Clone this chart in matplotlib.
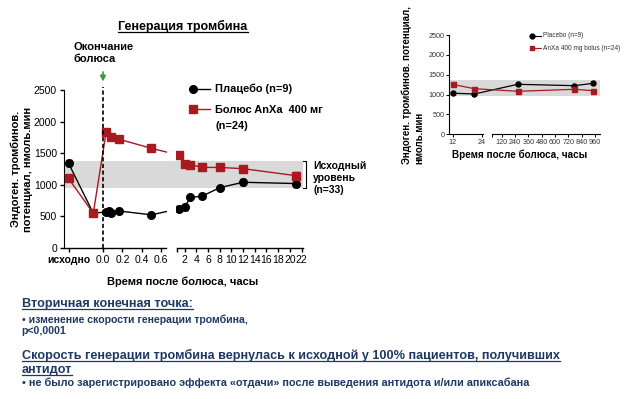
import matplotlib.pyplot as plt
import numpy as np
from matplotlib.lines import Line2D
from matplotlib.patches import Rectangle
from matplotlib.transforms import blended_transform_factory

plt.rcParams['font.family'] = ['Liberation Sans', 'DejaVu Sans']

# --- Hauptdiagramm: Thrombingenerierung (ETP) ---
pos_baseline = -0.355          # Position der Kategorie "исходно" auf der x-Achse
t_placebo = [pos_baseline, -0.1, 0.033, 0.067, 0.083, 0.167, 0.5, 1, 2, 3, 5, 8, 12, 21]
etp_placebo = [1340, 550, 570, 580, 560, 585, 525, 620, 650, 800, 820, 955, 1040, 1020]
err_placebo = [50, 0, 0, 0, 45, 0, 0, 40, 50, 0, 0, 0, 50, 50]

t_anxa = [pos_baseline, -0.1, 0.033, 0.083, 0.167, 0.5, 1, 2, 3, 5, 8, 12, 21]
etp_anxa = [1100, 550, 1840, 1750, 1720, 1577, 1470, 1325, 1320, 1275, 1275, 1255, 1145]
err_anxa = [0, 0, 0, 0, 0, 0, 0, 0, 0, 0, 0, 0, 50]

band = (955, 1370)             # Исходный уровень (n=33)

ticks_main = [pos_baseline, 0.0, 0.2, 0.4, 0.6, 0.7, 2, 4, 6, 8, 10, 12, 14, 16, 18, 20, 22]
ticklabels_main = ['исходно', '0.0', '0.2', '0.4', '0.6', '', '2', '4', '6', '8', '10', '12',
                   '14', '16', '18', '20', '22']

# --- kleines Diagramm rechts: Spätwerte ---
t_late = [12, 21, 264, 774, 945]
etp_late_placebo = [1035, 1015, 1259, 1224, 1284]
etp_late_anxa = [1258, 1148, 1083, 1133, 1098]
ticks_late = [12, 24, 30, 120, 240, 360, 480, 600, 720, 840, 960]
ticklabels_late = ['12', '24', '', '120', '240', '360', '480', '600', '720', '840', '960']

red = '#A51B1F'
navy = '#1F3864'
grey = '#D9D9D9'

W, H = 624, 399
def fx(px):
    return px / W
def fy(py):
    return 1 - py / H


def broken_scale(kx, kp):
    # stueckweise lineare Achse (Achsenbruch)
    fwd = lambda x: np.interp(x, kx, kp)
    inv = lambda p: np.interp(p, kp, kx)
    return fwd, inv


fig = plt.figure(figsize=(6.24, 3.99), dpi=100)

# ---------------- Hauptdiagramm ----------------
ax = fig.add_axes([fx(64), fy(248), fx(303 - 64), (248 - 90) / H])
kx = [-10, 0.65, 0.7, 1000]
kp = [103 - 970, 103 + 97 * 0.65, 177, 177 + 5.85 * 999.3]
ax.set_xscale('function', functions=broken_scale(kx, kp))
ax.set_xlim(-0.402, 22.24)
ax.set_ylim(0, 2500)

ax.axhspan(band[0], band[1], color=grey, zorder=0, lw=0)
ax.errorbar(t_placebo, etp_placebo, yerr=err_placebo, color='black', marker='o', ms=5.5,
            lw=1, elinewidth=1, capsize=2, zorder=3)
ax.errorbar(t_anxa, etp_anxa, yerr=err_anxa, color=red, marker='s', ms=6,
            lw=1, elinewidth=1, capsize=2, zorder=3)
# Luecke der Linien im Achsenbruch (ausserhalb des grauen Bandes)
for y0 in (400, 1400):
    ax.add_patch(Rectangle((0.655, y0), 0.04, 350, color='white', lw=0, zorder=3.5))
ax.axvline(0, ymin=0, ymax=1.02, color='black', ls=(0, (2.5, 1.5)), lw=1.2, clip_on=False, zorder=4)
ax.annotate('', xy=(0, 2590), xytext=(0, 2830), annotation_clip=False,
            arrowprops=dict(arrowstyle='-|>', color='#3A9A3A', lw=1.2, mutation_scale=8))

for s in ['top', 'right', 'bottom']:
    ax.spines[s].set_visible(False)
xt = ax.get_xaxis_transform()
ax.plot([-0.402, 0.65], [0, 0], color='black', lw=1, transform=xt, clip_on=False)
ax.plot([0.7, 22.24], [0, 0], color='black', lw=1, transform=xt, clip_on=False)

ax.set_xticks(ticks_main)
ax.set_xticklabels(ticklabels_main)
ax.get_xticklabels()[0].set_fontweight('bold')
ax.set_yticks([0, 500, 1000, 1500, 2000, 2500])
ax.tick_params(labelsize=7.5, length=3, width=1, pad=2)

# Klammer fuer den Ausgangsbereich
bt = blended_transform_factory(ax.transAxes, ax.transData)
ax.plot([1.0, 1.012, 1.012, 1.0], [band[0], band[0], band[1], band[1]], color='black', lw=0.8,
        transform=bt, clip_on=False)
fig.text(fx(313), fy(161), 'Исходный\nуровень\n(n=33)', fontsize=7.5, fontweight='bold',
         va='top', ha='left', linespacing=1.25)

fig.text(fx(73), fy(53), 'Окончание\nболюса', fontsize=8, fontweight='bold', va='center',
         ha='left', linespacing=1.2)

# Legende
fig.add_artist(Line2D([fx(193), fx(210)], [fy(89), fy(89)], color='black', lw=1,
                      marker='o', ms=5.5, markevery=[0]))
fig.text(fx(215), fy(89), 'Плацебо (n=9)', fontsize=7.9, fontweight='bold', va='center')
fig.add_artist(Line2D([fx(193), fx(210)], [fy(109), fy(109)], color=red, lw=1,
                      marker='s', ms=6, markevery=[0]))
fig.text(fx(215), fy(110), 'Болюс AnXa  400 мг', fontsize=7.9, fontweight='bold', va='center')
fig.text(fx(215), fy(126), '(n=24)', fontsize=7.9, fontweight='bold', va='center')

fig.text(fx(22), fy(169), 'Эндоген. тромбинов.\nпотенциал, нмоль.мин', rotation=90,
         fontsize=8, fontweight='bold', ha='center', va='center', linespacing=1.3)
fig.text(fx(183), fy(282), 'Время после болюса, часы', fontsize=8, fontweight='bold',
         ha='center', va='center')

# ---------------- rechtes Diagramm ----------------
ax2 = fig.add_axes([fx(449.3), fy(134.3), fx(600 - 449.3), (134.3 - 35) / H])
kx2 = [-100, 24.5, 30, 10000]
kp2 = [452.5 - 112 * 2.43, 452.5 + 12.5 * 2.43, 491.7, 491.7 + 9970 * 0.111]
ax2.set_xscale('function', functions=broken_scale(kx2, kp2))
ax2.set_xlim(10.68, 1005)
ax2.set_ylim(0, 2500)
ax2.axhspan(band[0], band[1], color=grey, zorder=0, lw=0)
ax2.plot(t_late, etp_late_placebo, color='black', marker='o', ms=3.6, lw=0.9, zorder=3)
ax2.plot(t_late, etp_late_anxa, color=red, marker='s', ms=3.6, lw=0.9, zorder=3)
for s in ['top', 'right', 'bottom']:
    ax2.spines[s].set_visible(False)
xt2 = ax2.get_xaxis_transform()
ax2.plot([10.68, 24.5], [0, 0], color='black', lw=0.8, transform=xt2, clip_on=False)
ax2.plot([30, 1005], [0, 0], color='black', lw=0.8, transform=xt2, clip_on=False)
ax2.spines['left'].set_linewidth(0.8)
ax2.set_xticks(ticks_late)
ax2.set_xticklabels(ticklabels_late)
ax2.set_yticks([0, 500, 1000, 1500, 2000, 2500])
ax2.tick_params(labelsize=5.2, length=2, width=0.7, pad=1.5, labelcolor='#333333')

fig.add_artist(Line2D([fx(532), fx(541)], [fy(35.7), fy(35.7)], color='black', lw=0.8,
                      marker='o', ms=3.5, markevery=[0]))
fig.text(fx(543), fy(35.7), 'Placebo (n=9)', fontsize=4.7, color='#333333', va='center')
fig.add_artist(Line2D([fx(532), fx(541)], [fy(48.3), fy(48.3)], color=red, lw=0.8,
                      marker='s', ms=3.5, markevery=[0]))
fig.text(fx(543), fy(48.3), 'AnXa 400 mg bolus (n=24)', fontsize=4.7, color='#333333', va='center')

fig.text(fx(413), fy(164), 'Эндоген. тромбинов. потенциал,\nнмоль.мин', rotation=90,
         fontsize=7, fontweight='bold', ha='center', va='bottom', multialignment='left',
         linespacing=1.2)
fig.text(fx(520), fy(155), 'Время после болюса, часы', fontsize=7.1, fontweight='bold',
         ha='center', va='center')

# ---------------- Texte ----------------
underlined = []
t = fig.text(fx(183), fy(30), 'Генерация тромбина', fontsize=9, fontweight='bold',
             ha='center', va='baseline')
underlined.append((t, 'black'))
t = fig.text(fx(21.7), fy(307), 'Вторичная конечная точка:', fontsize=9.1, fontweight='bold',
             color=navy, va='baseline')
underlined.append((t, navy))
fig.text(fx(21.7), fy(320), '• изменение скорости генерации тромбина,', fontsize=7.6,
         fontweight='bold', color=navy, va='center')
fig.text(fx(21.7), fy(331.5), 'p<0,0001', fontsize=7.6, fontweight='bold', color=navy, va='center')
t = fig.text(fx(21.7), fy(359), 'Скорость генерации тромбина вернулась к исходной у 100% пациентов, получивших',
             fontsize=9.1, fontweight='bold', color=navy, va='baseline')
underlined.append((t, navy))
t = fig.text(fx(21.7), fy(373), 'антидот', fontsize=9.1, fontweight='bold', color=navy, va='baseline')
underlined.append((t, navy))
fig.text(fx(21.7), fy(383), '• не было зарегистрировано эффекта «отдачи» после выведения антидота и/или апиксабана',
         fontsize=7.8, fontweight='bold', color=navy, va='center')

fig.canvas.draw()
inv = fig.transFigure.inverted()
for t, c in underlined:
    bb = t.get_window_extent()
    x0, _ = inv.transform((bb.x0, 0))
    x1, _ = inv.transform((bb.x1, 0))
    y = t.get_position()[1] - 2 / H
    fig.add_artist(Line2D([x0, x1], [y, y], color=c, lw=0.9))

fig.savefig('out.png', dpi=100)
